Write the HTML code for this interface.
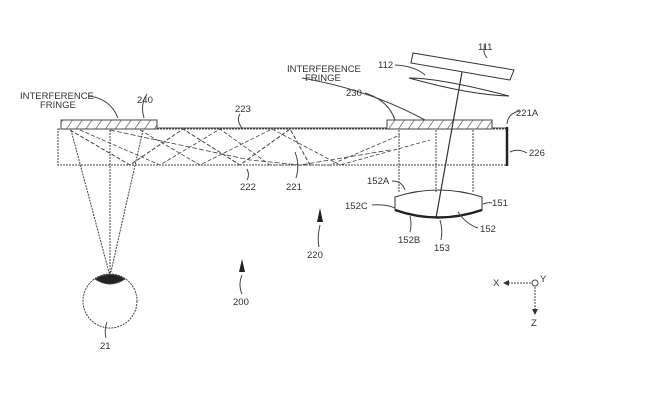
<!DOCTYPE html>
<html><head><meta charset="utf-8"><style>
html,body{margin:0;padding:0;background:#fff;}
svg{display:block;}
text{font-family:"Liberation Sans",sans-serif;font-size:9.5px;fill:#333;}
</style></head><body>
<svg width="671" height="410" viewBox="0 0 671 410" xmlns="http://www.w3.org/2000/svg">
<defs>
<pattern id="h" width="8" height="8" patternUnits="userSpaceOnUse" patternTransform="rotate(35)">
<rect width="8" height="8" fill="#fff"/><line x1="0" y1="0" x2="0" y2="8" stroke="#444" stroke-width="1.2"/>
</pattern>
</defs>
<g stroke="#444" fill="none" stroke-width="1">
<rect x="58" y="129" width="449" height="36" stroke-dasharray="2,1"/>
<line x1="157" y1="128" x2="507" y2="128"/>
<rect x="61" y="120" width="96" height="9" fill="url(#h)"/>
<rect x="387" y="120" width="105" height="9" fill="url(#h)"/>
<line x1="507" y1="127" x2="507" y2="166" stroke-width="2.5" stroke="#222"/>
<polyline points="70,130 130,165 183,129 240,165 290,129 310,165" stroke-dasharray="4,2"/>
<polyline points="80,130 160,165 220,129 270,165 330,165 400,135" stroke-dasharray="4,2" stroke-width="0.8"/>
<polyline points="140,130 200,165 272,129 340,165 430,140" stroke-dasharray="4,2" stroke-width="0.8"/>
<polyline points="110,130 250,160 300,165 390,150" stroke-dasharray="5,2" stroke-width="0.8"/>
<line x1="71" y1="130" x2="110" y2="276" stroke-dasharray="2,1"/>
<line x1="110" y1="130" x2="110" y2="276" stroke-dasharray="2,1"/>
<line x1="143" y1="130" x2="110" y2="276" stroke-dasharray="2,1"/>
<circle cx="110" cy="301" r="27" stroke-dasharray="2,1"/>
<path d="M95,279 A27,27 0 0 1 125,279 Q110,289 95,279 Z" fill="#222"/>
<path d="M107,322 Q104,330 106,338" />
<line x1="399" y1="130" x2="399" y2="192" stroke-dasharray="2,1"/>
<line x1="436" y1="130" x2="436" y2="192" stroke-dasharray="2,1"/>
<line x1="473" y1="130" x2="473" y2="192" stroke-dasharray="2,1"/>
<polygon points="413,53 514,70 510,80 411,63" stroke="#333"/>
<path d="M409,78 Q440,78 509,96 Q470,95 409,78 Z" stroke="#333"/>
<line x1="462" y1="72" x2="436" y2="218" stroke="#333" stroke-width="1.2"/>
<path d="M395,197 Q438,183 482,197 L482,210 Q438,225 395,210 Z" stroke="#333"/>
<path d="M395,210 Q438,225 482,210" stroke="#222" stroke-width="2.5"/>
<path d="M88,96 Q110,98 118,118"/>
<path d="M147,94 Q140,104 144,118"/>
<path d="M240,114 Q236,120 242,128"/>
<path d="M247,169 Q250,175 247,180"/>
<path d="M295,152 Q300,165 296,178"/>
<path d="M302,78 Q370,90 425,120"/>
<path d="M365,93 Q388,100 395,120"/>
<path d="M395,65 Q415,66 425,75"/>
<path d="M485,45 Q482,52 487,58"/>
<path d="M520,111 Q508,113 507,124"/>
<path d="M510,152 Q518,148 527,153"/>
<path d="M392,181 Q402,181 405,190"/>
<path d="M372,205 Q385,204 395,208"/>
<path d="M483,204 Q488,202 492,203"/>
<path d="M458,212 Q466,224 478,228"/>
<path d="M410,216 Q412,225 410,232"/>
<path d="M440,220 Q443,230 441,240"/>
<path d="M242,275 Q238,285 242,294"/>
<path d="M320,225 Q317,238 319,247"/>
<line x1="505" y1="283" x2="531" y2="283" stroke-dasharray="2,1"/>
<line x1="535" y1="287" x2="535" y2="312" stroke-dasharray="2,1"/>
<circle cx="535" cy="283" r="3"/>
</g>
<polygon points="503,283 509,280 509,286" fill="#333"/>
<polygon points="535,315 532,309 538,309" fill="#333"/>
<polygon points="242,259 239,272 245,272" fill="#222"/>
<polygon points="320,208 317,222 323,222" fill="#222"/>
<text x="20" y="99">INTERFERENCE</text>
<text x="40" y="108">FRINGE</text>
<text x="137" y="103">240</text>
<text x="235" y="112">223</text>
<text x="240" y="190">222</text>
<text x="286" y="190">221</text>
<text x="287" y="72">INTERFERENCE</text>
<text x="305" y="81">FRINGE</text>
<text x="346" y="96">230</text>
<text x="378" y="68">112</text>
<text x="478" y="50">111</text>
<text x="516" y="116">221A</text>
<text x="529" y="156">226</text>
<text x="367" y="184">152A</text>
<text x="345" y="209">152C</text>
<text x="492" y="206">151</text>
<text x="480" y="232">152</text>
<text x="398" y="243">152B</text>
<text x="434" y="251">153</text>
<text x="307" y="258">220</text>
<text x="233" y="305">200</text>
<text x="100" y="349">21</text>
<text x="493" y="286">X</text>
<text x="540" y="282">Y</text>
<text x="531" y="326">Z</text>
</svg>
</body></html>
